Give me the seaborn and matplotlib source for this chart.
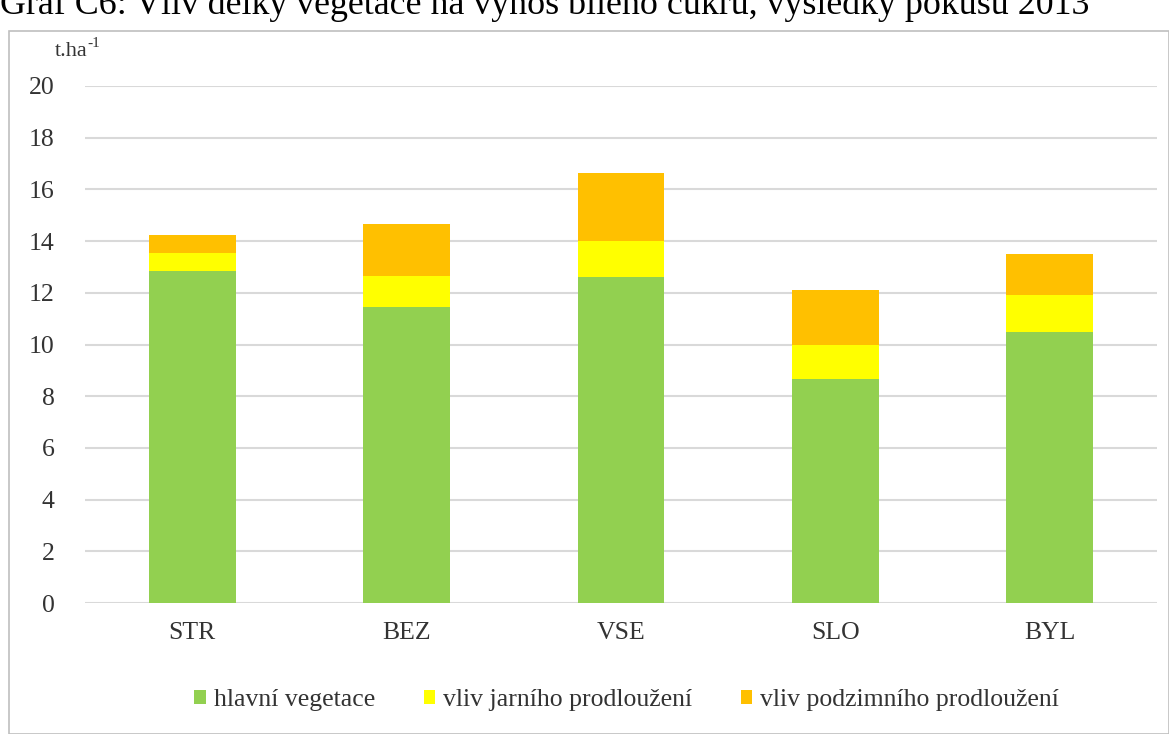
import matplotlib
matplotlib.use("Agg")
import matplotlib.pyplot as plt
import seaborn as sns
import pandas as pd
import numpy as np
from matplotlib.patches import Rectangle, Patch

categories = ["STR", "BEZ", "VSE", "SLO", "BYL"]
hlavni = [12.85, 11.45, 12.6, 8.65, 10.5]
jarni = [0.7, 1.2, 1.4, 1.35, 1.4]
podzimni = [0.7, 2.0, 2.65, 2.1, 1.6]
series_names = ["hlavní vegetace", "vliv jarního prodloužení", "vliv podzimního prodloužení"]
colors = ["#92d050", "#ffff00", "#ffc000"]
yticks = [0, 2, 4, 6, 8, 10, 12, 14, 16, 18, 20]

sns.set_theme(style="white")
plt.rcParams["font.family"] = ["Liberation Serif", "DejaVu Serif"]
plt.rcParams["axes.unicode_minus"] = False

df = pd.DataFrame({"cat": categories, "h": hlavni, "j": jarni, "p": podzimni})
df["hj"] = df["h"] + df["j"]
df["total"] = df["hj"] + df["p"]

txt = "#333333"
fig = plt.figure(figsize=(11.69, 7.34), dpi=100)
ax = fig.add_axes([85/1169, 1-603/734, (1157-85)/1169, (603-86)/734])

for col, c in zip(["total", "hj", "h"], colors[::-1]):
    sns.barplot(data=df, x="cat", y=col, color=c, width=0.405, ax=ax,
                saturation=1, linewidth=0, zorder=3)

ax.set_ylim(0, 20)
ax.set_yticks(yticks)
ax.set_xlim(-0.5, 4.5)
ax.yaxis.grid(True, color="#d9d9d9", linewidth=1.5, zorder=0)
ax.xaxis.grid(False)
ax.set_axisbelow(True)
for s in ax.spines.values():
    s.set_visible(False)
ax.set_xlabel("")
ax.set_ylabel("")
ax.tick_params(axis="both", length=0, labelsize=18.5, colors=txt)
ax.tick_params(axis="x", pad=14)
ax.tick_params(axis="y", pad=22)
ax.set_yticklabels([str(v) for v in yticks])

fig.text(55/1169, 1-56/734, "t.ha", fontsize=16, color=txt, ha="left", va="baseline")
fig.text(87/1169, 1-47/734, "-1", fontsize=11, color=txt, ha="left", va="baseline")

handles = [Patch(facecolor=c, edgecolor="none") for c in colors]
fig.legend(handles, series_names, loc="center", bbox_to_anchor=(0.536, 1-700/734),
           ncol=3, frameon=False, fontsize=18.5, handlelength=0.45, handleheight=0.45,
           handletextpad=0.3, columnspacing=1.9, labelcolor=txt)

fig.patches.append(Rectangle((9/1169, 0), (1169-9)/1169, 1-31/734, transform=fig.transFigure,
                             fill=False, edgecolor="#bfbfbf", linewidth=1.2))

fig.text(0.0, 1-14/734, "Graf C6: Vliv délky vegetace na výnos bílého cukru, výsledky pokusu 2013",
         fontsize=25.8, color="black", ha="left", va="baseline")

fig.savefig("out.png", dpi=100)
